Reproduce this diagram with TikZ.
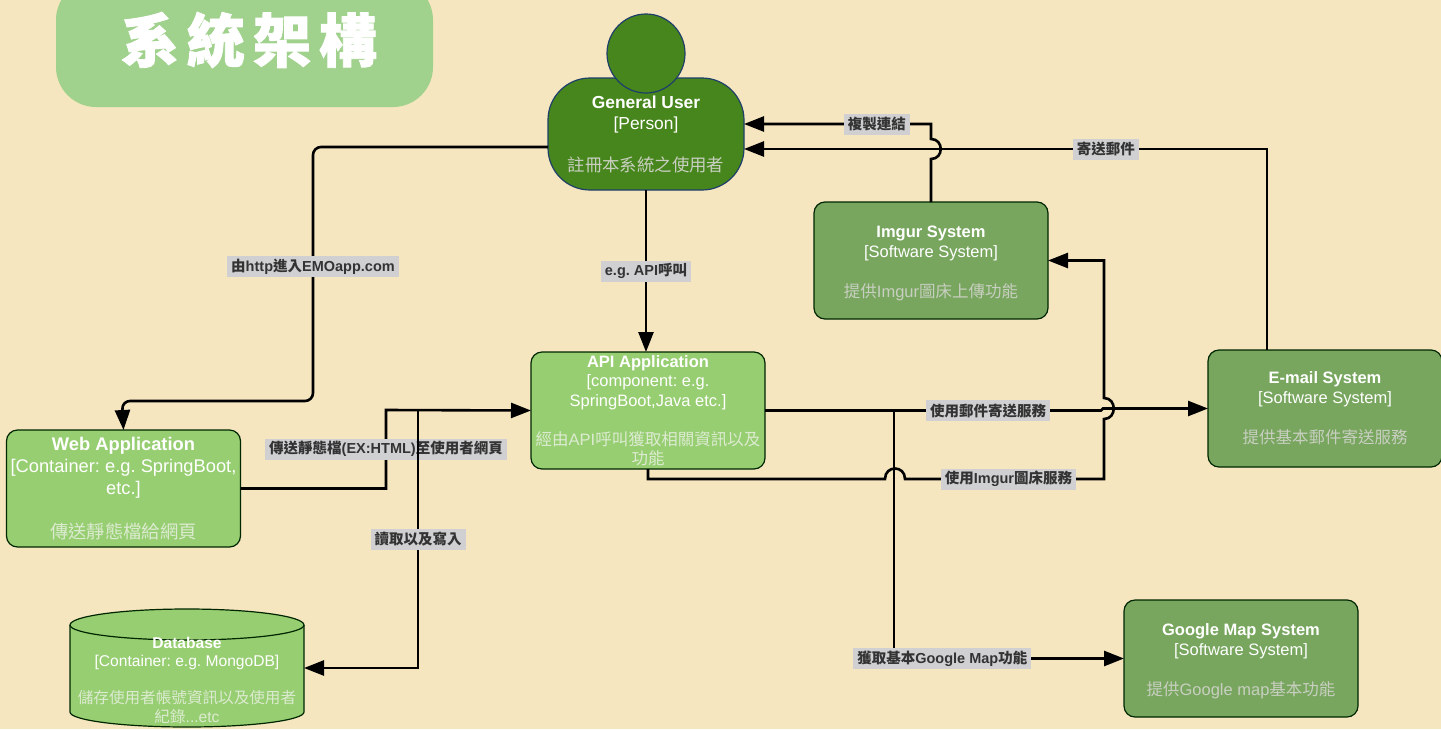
\documentclass[tikz,border=0pt]{standalone}
\usepackage{fontspec}
\setmainfont{Liberation Sans}
\newfontfamily\zhfont{Noto Sans CJK TC}
\newfontfamily\titlefont[BoldFeatures={FakeBold=1.5}]{Noto Sans CJK TC}
\newcommand{\zh}[1]{{\zhfont #1}}
\newcommand{\toppad}{\rule{0pt}{17pt}}
\usetikzlibrary{arrows.meta,positioning}
\usetikzlibrary{shapes.geometric}
\definecolor{pagebg}{HTML}{F5E6BF}
\definecolor{titlegreen}{HTML}{A0D28D}
\definecolor{persongreen}{HTML}{47861C}
\definecolor{persondraw}{HTML}{1F3F6B}
\definecolor{lightgreen}{HTML}{97CE72}
\definecolor{darkgreen}{HTML}{78A65F}
\definecolor{labelgray}{HTML}{D0D0D2}
\definecolor{labeltext}{HTML}{333333}
\definecolor{descgray}{HTML}{C8CFC0}
\definecolor{desclight}{HTML}{DCEBD0}
\frenchspacing

\begin{document}
\begin{tikzpicture}[x=1pt, y=-1pt, >={Triangle[length=20pt,width=15pt]},
   box/.style={rectangle, draw=black!85!green, line width=1.2pt, rounded corners=11pt, outer sep=0pt, inner sep=0pt, text=white, align=center, minimum width=234pt, minimum height=117pt},
   lightbox/.style={box, fill=lightgreen},
   darkbox/.style={box, fill=darkgreen, font=\fontsize{16.5}{20}\selectfont},
   line/.style={line width=2.6pt, black},
   edgelabel/.style={rectangle, sharp corners, fill=labelgray, text=labeltext, inner xsep=4pt, inner ysep=0pt, minimum height=21pt, font=\fontsize{14.5}{16}\selectfont\bfseries}]
   \useasboundingbox (0,0) rectangle (1441,729);
   \clip (0,0) rectangle (1441,729);
   \fill[pagebg] (0,0) rectangle (1441,729);

   \node (titlebox) at (244.5,43.5) [rectangle, fill=titlegreen, rounded corners=40pt, minimum width=377pt, minimum height=127pt] {};
   \node (titletext) at (249,40) [text=white, font=\fontsize{58}{60}\selectfont\bfseries] {\titlefont 系\hspace{8pt}統\hspace{8pt}架\hspace{8pt}構};

   \node (user) at (646,134) [box, fill=persongreen, draw=persondraw, rounded corners=42pt, minimum width=196pt, minimum height=112pt, font=\fontsize{17.4}{21}\selectfont] {\textbf{General User}\\
{[Person]}\\[21pt]
\textcolor{descgray}{\zh{註冊本系統之使用者}}};
   \node (head) at (646,53.5) [ellipse, draw=persondraw, line width=1.2pt, fill=persongreen, inner sep=0pt, minimum width=78pt, minimum height=79pt] {};
   \node (imgur) at (931,260.5) [darkbox] {\toppad\textbf{Imgur System}\\
{[Software System]}\\[20pt]
\textcolor{descgray}{\zh{提供}Imgur\zh{圖床上傳功能}}};
   \node (email) at (1325,408.5) [darkbox] {\textbf{E-mail System}\\
{[Software System]}\\[20pt]
\textcolor{descgray}{\zh{提供基本郵件寄送服務}}};
   \node (google) at (1241,658.5) [darkbox] {\toppad\textbf{Google Map System}\\
{[Software System]}\\[20pt]
\textcolor{descgray}{\zh{提供}Google map\zh{基本功能}}};
   \node (api) at (648,410.5) [lightbox, font=\fontsize{16.5}{19.5}\selectfont] {\textbf{API Application}\\
{[component: e.g.}\\
SpringBoot,Java etc.]\\[19.5pt]
\textcolor{desclight}{\zh{經由}API\zh{呼叫獲取相關資訊以及}}\\
\textcolor{desclight}{\zh{功能}}};
   \node (web) at (123.5,488.5) [lightbox, font=\fontsize{18.3}{22}\selectfont] {\textbf{Web Application}\\
{[Container: e.g. SpringBoot,}\\
etc.]\\[22pt]
\textcolor{desclight}{\zh{傳送靜態檔給網頁}}};

   \draw[draw=black!85!green, line width=1.2pt, fill=lightgreen] (70,625) arc[start angle=180, end angle=0, x radius=117pt, y radius=16pt] -- (304,712) arc[start angle=0, end angle=-180, x radius=117pt, y radius=15pt] -- cycle;
   \draw[draw=black!85!green, line width=1.2pt] (70,625) arc[start angle=180, end angle=360, x radius=117pt, y radius=15pt];
   \node (db) at (187,668) [rectangle, outer sep=0pt, inner sep=0pt, text=white, align=center, minimum width=234pt, minimum height=118pt, font=\fontsize{15.6}{18.5}\selectfont] {\rule{0pt}{36pt}\textbf{Database}\\
{[Container: e.g. MongoDB]}\\[18.5pt]
\textcolor{desclight}{\zh{儲存使用者帳號資訊以及使用者}}\\
\textcolor{desclight}{\zh{紀錄}...etc}};

   \coordinate (webjoin) at (418,410);
   \coordinate (apijoin) at (894,410.5);

   \draw[line, ->, rounded corners=8pt] ([yshift=-13pt]user.west) -- (313,147) -- node[edgelabel, pos=.47]{\zh{由}http\zh{進入}EMOapp.com} (313,401) -- (122,401) -- (web.north);
   \draw[line, ->] (user.south) -- node[edgelabel]{e.g. API\zh{呼叫}} (user.south |- api.north);
   \draw[line, ->] (imgur.north) -- (931,159) .. controls +(13,0) and +(13,0) .. (931,139) -- (931,124) -- node[edgelabel, pos=.29]{\zh{複製連結}} ([yshift=10pt]user.east);
   \draw[line, ->] ([xshift=-58pt]email.north) -- (1267,149) -- node[edgelabel, pos=.308]{\zh{寄送郵件}} ([yshift=-15pt]user.east);
   \draw[line, ->] (web.east) -- (386,488.5) -- node[edgelabel]{\zh{傳送靜態檔}(EX:HTML)\zh{至使用者網頁}} (386,410) -- (api.west);
   \draw[line, ->] (webjoin) -- node[edgelabel]{\zh{讀取以及寫入}} (418,668) -- (db.east);
   \draw[line, ->] (api.east) -- node[edgelabel, pos=.664]{\zh{使用郵件寄送服務}} (1101,410.5) -- (1103,408.5) -- (email.west);
   \draw[line, ->] (api.south) -- (648,479) -- (885,479) .. controls +(0,-14) and +(0,-14) .. (905,479) -- node[edgelabel, pos=.52]{\zh{使用}Imgur\zh{圖床服務}} (1104,479) -- (1104,419) .. controls +(13,0) and +(13,0) .. (1104,398) -- (1104,260.5) -- (imgur.east);
   \draw[line, ->] (apijoin) -- (apijoin |- google.west) -- node[edgelabel, pos=.21]{\zh{獲取基本}Google Map\zh{功能}} (google.west);

\end{tikzpicture}
\end{document}
